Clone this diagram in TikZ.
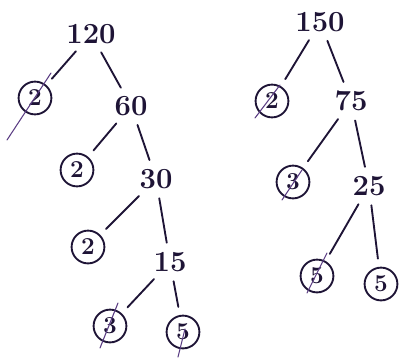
\documentclass[tikz,border=0pt]{standalone}
\usepackage{tikz}
\usetikzlibrary{calc}
\definecolor{ink}{HTML}{1E1436}
\definecolor{strikeink}{HTML}{5A3C83}

\begin{document}
\begin{tikzpicture}[
  x=0.03cm, y=-0.03cm,
  num/.style={
    text=ink,
    inner sep=1pt,
    font=\Huge\bfseries
  },
  prime/.style={
    circle,
    draw=ink,
    line width=1.6pt,
    minimum size=28pt,
    inner sep=0pt,
    text=ink,
    font=\huge\bfseries
  },
  branch/.style={ink, line width=1.6pt, line cap=round, shorten <=7pt, shorten >=7pt},
  strike/.style={strikeink, line width=0.9pt, line cap=round}
]
  \useasboundingbox (0,0) rectangle (399,358);

  % Nodes (left tree)
  \node (n120) [num]   at (91,34)   {120};
  \node (l2a)  [prime] at (35,98)   {2};
  \node (n60)  [num]   at (131,106) {60};
  \node (l2b)  [prime] at (77,170)  {2};
  \node (n30)  [num]   at (156,179) {30};
  \node (l2c)  [prime] at (88,247)  {2};
  \node (n15)  [num]   at (170,262) {15};
  \node (l3)   [prime] at (110,326) {3};
  \node (l5)   [prime] at (183,332) {5};

  % Nodes (right tree)
  \node (n150) [num]   at (320,22)  {150};
  \node (r2)   [prime] at (272,101) {2};
  \node (n75)  [num]   at (351,101) {75};
  \node (r3)   [prime] at (293,182) {3};
  \node (n25)  [num]   at (369,186) {25};
  \node (r5a)  [prime] at (317,276) {5};
  \node (r5b)  [prime] at (381,284) {5};

  % Branches
  \draw [branch] (n120) -- (l2a);
  \draw [branch] (n120) -- (n60);
  \draw [branch] (n60) -- (l2b);
  \draw [branch] (n60) -- (n30);
  \draw [branch] (n30) -- (l2c);
  \draw [branch] (n30) -- (n15);
  \draw [branch] (n15) -- (l3);
  \draw [branch] (n15) -- (l5);

  \draw [branch] (n150) -- (r2);
  \draw [branch] (n150) -- (n75);
  \draw [branch] (n75) -- (r3);
  \draw [branch] (n75) -- (n25);
  \draw [branch] (n25) -- (r5a);
  \draw [branch] (n25) -- (r5b);

  % Strike marks
  \draw [strike] ($(l2a)+(16,-25)$) -- ($(l2a)+(-28,42)$);
  \draw [strike] ($(l3)+(8,-23)$) -- ($(l3)+(-10,22)$);
  \draw [strike] ($(l5)+(2,-3)$) -- ($(l5)+(-5,25)$);
  \draw [strike] ($(r2)+(8,-16)$) -- ($(r2)+(-17,17)$);
  \draw [strike] ($(r3)+(9,-12)$) -- ($(r3)+(-11,18)$);
  \draw [strike] ($(r5a)+(10,-23)$) -- ($(r5a)+(-10,17)$);

\end{tikzpicture}
\end{document}
